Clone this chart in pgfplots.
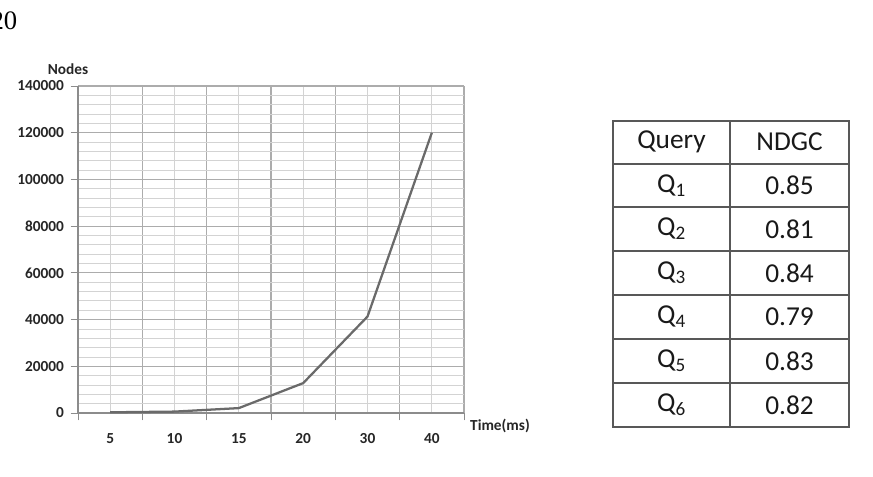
\documentclass[border=0pt]{standalone}
\usepackage{fontspec}
\setmainfont{Carlito}
\newfontfamily\serifnum{Liberation Serif}
\usepackage{pgfplots}
\pgfplotsset{compat=1.18}
\definecolor{gridmaj}{HTML}{ACACAC}
\definecolor{gridmin}{HTML}{D3D3D3}
\definecolor{lineC}{HTML}{6A6A6A}
\definecolor{tabline}{HTML}{585858}
\definecolor{axisC}{HTML}{8C8C8C}
\begin{document}
\begin{tikzpicture}[x=0.75pt,y=0.75pt]
\path[use as bounding box] (0,0) rectangle (873,476);
\node[anchor=east, inner sep=0pt, font=\serifnum\fontsize{20}{24}\selectfont] at (17.5,455) {20};
\begin{axis}[at={(58.5pt,47.25pt)}, anchor=south west, scale only axis,
  width=289.5pt, height=245.25pt,
  xmin=0, xmax=6, ymin=0, ymax=140000,
  axis x line*=bottom, axis y line*=left,
  xtick={0,1,2,3,4,5,6}, xticklabels={,,,,,,},
  minor xtick={0.5,1.5,2.5,3.5,4.5,5.5},
  extra x ticks={0.5,1.5,2.5,3.5,4.5,5.5},
  extra x tick labels={5,10,15,20,30,40},
  extra x tick style={grid=none, tick style={draw=none}},
  ytick={0,20000,40000,60000,80000,100000,120000,140000},
  minor y tick num=4,
  grid=both,
  major grid style={gridmaj, line width=0.8pt},
  minor grid style={gridmin, line width=0.6pt},
  axis line style={draw=axisC, line width=0.8pt},
  tick style={axisC, line width=0.7pt},
  minor tick length=0pt, major tick length=5.5pt, tick align=outside,
  scaled y ticks=false,
  /pgf/number format/fixed,
  /pgf/number format/precision=0,
  /pgf/number format/assume math mode=true,
  /pgf/number format/1000 sep={},
  ticklabel style={font=\fontsize{11.5}{13}\selectfont\bfseries, text=black!85},
  yticklabel style={xshift=-1.5pt},
  xticklabel style={yshift=-6.5pt},
  clip=false,
]
\addplot[lineC, line width=1.7pt, mark=none] coordinates {
  (0.5,300) (1.5,600) (2.5,2100) (3.5,12800) (4.5,41300) (5.5,120000)
};
\end{axis}
\node[font=\fontsize{11.5}{13}\selectfont\bfseries, text=black!85] at (68,406.5) {Nodes};
\node[font=\fontsize{11.5}{13}\selectfont\bfseries, text=black!85] at (500,50) {Time(ms)};
% table
\begin{scope}[tabline, line width=1.4pt]
\draw (613,49) rectangle (849,355);
\draw (730,49) -- (730,355);
\foreach \yy in {312,269,225,181,137,93} { \draw (613,\yy) -- (849,\yy); }
\end{scope}
\begin{scope}[font=\fontsize{20.5}{24}\selectfont, text=black!90]
\node at (671.5,334) {Query};
\node at (789.5,334) {NDGC};
\node at (671.5,290.5) {Q\textsubscript{1}};
\node at (789.5,290.5) {0.85};
\node at (671.5,247) {Q\textsubscript{2}};
\node at (789.5,247) {0.81};
\node at (671.5,203) {Q\textsubscript{3}};
\node at (789.5,203) {0.84};
\node at (671.5,159) {Q\textsubscript{4}};
\node at (789.5,159) {0.79};
\node at (671.5,115) {Q\textsubscript{5}};
\node at (789.5,115) {0.83};
\node at (671.5,71) {Q\textsubscript{6}};
\node at (789.5,71) {0.82};
\end{scope}
\end{tikzpicture}
\end{document}
